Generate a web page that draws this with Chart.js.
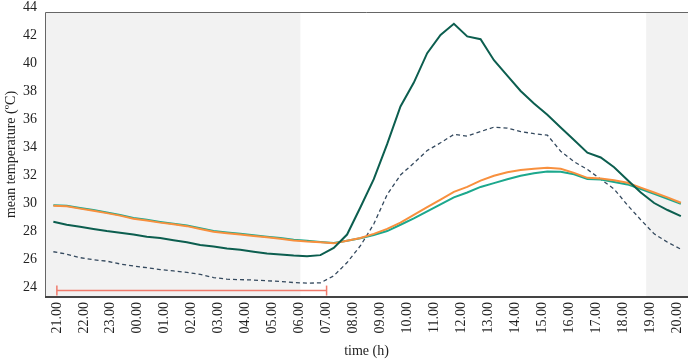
<!DOCTYPE html>
<html>
<head>
<meta charset="utf-8">
<script src="https://cdn.jsdelivr.net/npm/chart.js@4"></script>
<style>
  html, body { margin: 0; padding: 0; background: #fff; }
</style>
</head>
<body>
<canvas id="temp-chart" width="688" height="360"></canvas>
<script>
// hour labels along the bottom, one per hour starting at 21.00
const hourLabels = ['21.00', '22.00', '23.00', '00.00', '01.00', '02.00', '03.00', '04.00',
  '05.00', '06.00', '07.00', '08.00', '09.00', '10.00', '11.00', '12.00', '13.00', '14.00',
  '15.00', '16.00', '17.00', '18.00', '19.00', '20.00'];
const yTicks = [24, 26, 28, 30, 32, 34, 36, 38, 40, 42, 44];

// half-hourly means (ºC), first reading just before 21.00
const firstTime = -0.13;   // hours after 21.00
const timeStep = 0.495;

const darkLine = [28.66, 28.45, 28.3, 28.15, 28.0, 27.88, 27.75, 27.6, 27.5, 27.35,
  27.2, 27.0, 26.9, 26.75, 26.66, 26.52, 26.4, 26.33, 26.25, 26.2,
  26.28, 26.8, 27.75, 29.7, 31.7, 34.2, 36.9, 38.6, 40.7, 42.0,
  42.8, 41.9, 41.7, 40.2, 39.1, 38.0, 37.1, 36.3, 35.4, 34.5,
  33.6, 33.25, 32.55, 31.65, 30.75, 30.0, 29.5, 29.07];

const tealLine = [29.84, 29.8, 29.64, 29.5, 29.32, 29.14, 28.93, 28.8, 28.65, 28.52,
  28.4, 28.2, 28.0, 27.9, 27.8, 27.7, 27.6, 27.5, 27.38, 27.3,
  27.22, 27.14, 27.3, 27.48, 27.72, 28.0, 28.45, 28.9, 29.4, 29.9,
  30.4, 30.75, 31.15, 31.42, 31.7, 31.95, 32.12, 32.25, 32.24, 32.05,
  31.72, 31.68, 31.5, 31.33, 31.0, 30.65, 30.3, 29.95];

const orangeLine = [29.8, 29.77, 29.6, 29.45, 29.28, 29.1, 28.88, 28.75, 28.6, 28.48,
  28.35, 28.15, 27.95, 27.85, 27.75, 27.65, 27.55, 27.45, 27.33, 27.25,
  27.2, 27.12, 27.3, 27.5, 27.8, 28.15, 28.6, 29.15, 29.7, 30.25,
  30.8, 31.15, 31.6, 31.95, 32.2, 32.36, 32.45, 32.52, 32.45, 32.15,
  31.8, 31.75, 31.62, 31.45, 31.1, 30.75, 30.4, 30.02];

const dashedLine = [26.52, 26.35, 26.1, 25.95, 25.85, 25.65, 25.5, 25.38, 25.25, 25.15,
  25.05, 24.9, 24.68, 24.56, 24.53, 24.5, 24.45, 24.4, 24.32, 24.28,
  24.3, 24.8, 25.75, 26.95, 28.5, 30.6, 32.0, 32.85, 33.75, 34.3,
  34.9, 34.78, 35.1, 35.42, 35.35, 35.1, 34.95, 34.85, 33.7, 32.95,
  32.4, 31.7, 31.0, 29.85, 28.8, 27.8, 27.2, 26.7];

// night periods (hours after 21.00) and the resting interval bar
const nightStart = [-0.44, 9.03];
const nightEnd = [21.85, 23.4];
const restSpan = [0, 10];
const restLevel = 23.75;

const xMin = -0.44, xMax = 23.4;
const yMin = 23.29, yMax = 43.64;

function toPoints(values) {
  return values.map((v, i) => ({ x: firstTime + i * timeStep, y: v }));
}

const shadePlugin = {
  id: 'shade',
  beforeDatasetsDraw(chart) {
    const { ctx, chartArea, scales } = chart;
    ctx.save();
    ctx.fillStyle = '#f2f2f2';
    [nightStart, nightEnd].forEach(r => {
      const x0 = scales.x.getPixelForValue(r[0]);
      const x1 = scales.x.getPixelForValue(r[1]);
      ctx.fillRect(x0, chartArea.top, x1 - x0, chartArea.bottom - chartArea.top);
    });
    ctx.restore();
  },
  afterDraw(chart) {
    const { ctx, chartArea } = chart;
    ctx.save();
    ctx.strokeStyle = '#666';
    ctx.lineWidth = 1;
    ctx.beginPath();
    ctx.moveTo(chartArea.left + 0.5, chartArea.bottom);
    ctx.lineTo(chartArea.left + 0.5, chartArea.top + 0.5);
    ctx.lineTo(chartArea.right, chartArea.top + 0.5);
    ctx.stroke();
    ctx.strokeStyle = '#444';
    ctx.lineWidth = 2;
    ctx.beginPath();
    ctx.moveTo(chartArea.left, chartArea.bottom);
    ctx.lineTo(chartArea.right, chartArea.bottom);
    ctx.stroke();
    ctx.restore();
  }
};

const serif = 'Liberation Serif';

new Chart(document.getElementById('temp-chart'), {
  type: 'line',
  data: {
    datasets: [
      {
        label: 'rest',
        data: restSpan.map(x => ({ x: x, y: restLevel })),
        borderColor: '#f07b6c',
        borderWidth: 1.5,
        pointStyle: 'line',
        rotation: 90,
        pointRadius: 5,
        pointBorderColor: '#f07b6c',
        pointBorderWidth: 1.5,
        order: 5
      },
      {
        label: 'air',
        data: toPoints(dashedLine),
        borderColor: '#34495e',
        borderWidth: 1.3,
        borderDash: [4, 3],
        pointRadius: 0,
        order: 4
      },
      {
        label: 'shade',
        data: toPoints(tealLine),
        borderColor: '#1ca88d',
        borderWidth: 2,
        pointRadius: 0,
        order: 3
      },
      {
        label: 'ground',
        data: toPoints(orangeLine),
        borderColor: '#f8903e',
        borderWidth: 2,
        pointRadius: 0,
        order: 2
      },
      {
        label: 'exposed',
        data: toPoints(darkLine),
        borderColor: '#0c5e4f',
        borderWidth: 2,
        pointRadius: 0,
        order: 1
      }
    ]
  },
  options: {
    responsive: false,
    animation: false,
    devicePixelRatio: 1,
    layout: { autoPadding: false, padding: { top: 12, left: 0, right: 0, bottom: 0 } },
    elements: { line: { tension: 0 } },
    plugins: { legend: { display: false }, tooltip: { enabled: false } },
    scales: {
      x: {
        type: 'linear',
        min: xMin,
        max: xMax,
        grid: { display: false, drawTicks: false },
        border: { display: false },
        afterBuildTicks: s => { s.ticks = hourLabels.map((l, i) => ({ value: i })); },
        afterFit: s => { s.height = 63; s.paddingLeft = 0; s.paddingRight = 0; },
        ticks: {
          minRotation: 90,
          maxRotation: 90,
          autoSkip: false,
          padding: 5,
          color: '#222',
          font: { family: serif, size: 14 },
          callback: (v, i) => hourLabels[i]
        },
        title: {
          display: true,
          text: 'time (h)',
          color: '#222',
          font: { family: serif, size: 14 },
          padding: { top: 0, bottom: 0 }
        }
      },
      y: {
        min: yMin,
        max: yMax,
        grid: { display: false, drawTicks: false },
        border: { display: false },
        afterBuildTicks: s => { s.ticks = yTicks.map(v => ({ value: v })); },
        afterFit: s => { s.width = 45; s.paddingTop = 0; s.paddingBottom = 0; },
        ticks: {
          padding: 8,
          color: '#222',
          font: { family: serif, size: 14 },
          callback: v => String(v)
        },
        title: {
          display: true,
          text: 'mean temperature (ºC)',
          color: '#222',
          font: { family: serif, size: 14 },
          padding: { top: 3, bottom: 0 }
        }
      }
    }
  },
  plugins: [shadePlugin]
});
</script>
</body>
</html>
